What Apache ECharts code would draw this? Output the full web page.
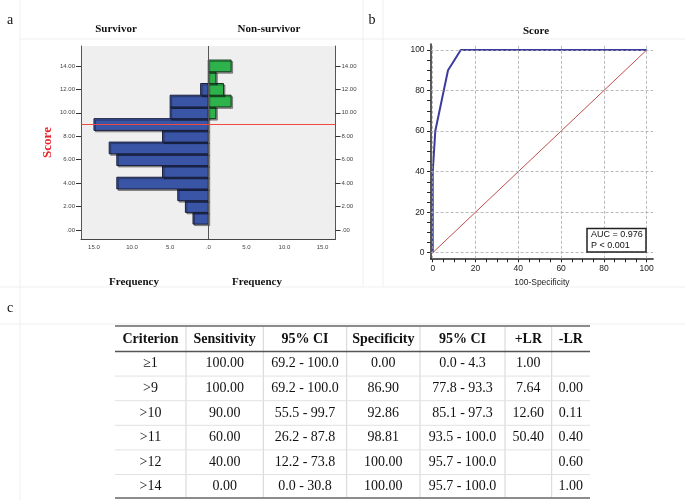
<!DOCTYPE html>
<html><head><meta charset="utf-8">
<script src="https://cdn.jsdelivr.net/npm/echarts@6/dist/echarts.min.js"></script>
<style>html,body{margin:0;padding:0;background:#fff}#c{width:685px;height:500px}</style>
</head><body><div id="c"></div>
<script>
// ---- Panel a: score histogram (bins centred on integer scores) ----
const scoreBins = [1, 2, 3, 4, 5, 6, 7, 8, 9, 10, 11, 12, 13, 14];
const survivorFreq = [2, 3, 4, 12, 6, 12, 13, 6, 15, 5, 5, 1, 0, 0];
const nonSurvivorFreq = [0, 0, 0, 0, 0, 0, 0, 0, 0, 1, 3, 2, 1, 3];
const cutoffScore = 9;
const scoreTicks = [0, 2, 4, 6, 8, 10, 12, 14];
const freqTicks = [-15, -10, -5, 0, 5, 10, 15];
// ---- Panel b: ROC curve ----
const rocFpr = [0, 0, 1.19, 7.14, 13.10, 100];
const rocTpr = [0, 40, 60, 90, 100, 100];
const refLineX = [0, 100];
const refLineY = [0, 100];
const rocTicks = [0, 20, 40, 60, 80, 100];
const rocMinorTicks = [0, 5, 10, 15, 20, 25, 30, 35, 40, 45, 50, 55, 60, 65, 70, 75, 80, 85, 90, 95, 100];
const aucLines = ['AUC = 0.976', 'P < 0.001'];
// ---- Panel c: table ----
const tableHeader = ['Criterion', 'Sensitivity', '95% CI', 'Specificity', '95% CI', '+LR', '-LR'];
const criterion = ['\u22651', '>9', '>10', '>11', '>12', '>14'];
const sensitivity = ['100.00', '100.00', '90.00', '60.00', '40.00', '0.00'];
const sensCI = ['69.2 - 100.0', '69.2 - 100.0', '55.5 - 99.7', '26.2 - 87.8', '12.2 - 73.8', '0.0 - 30.8'];
const specificity = ['0.00', '86.90', '92.86', '98.81', '100.00', '100.00'];
const specCI = ['0.0 - 4.3', '77.8 - 93.3', '85.1 - 97.3', '93.5 - 100.0', '95.7 - 100.0', '95.7 - 100.0'];
const posLR = ['1.00', '7.64', '12.60', '50.40', '', ''];
const negLR = ['', '0.00', '0.11', '0.40', '0.60', '1.00'];

const SERIF = "'Liberation Serif','Times New Roman',serif";
const SANS = "'Liberation Sans',Arial,sans-serif";

const chart = echarts.init(document.getElementById('c'), null, {renderer: 'canvas'});

function histItem(sign, fill, stroke) {
  return function (params, api) {
    const y = api.value(0), v = api.value(1);
    if (!v) return null;
    const a = api.coord([0, y - 0.5]);
    const b = api.coord([sign * v, y + 0.5]);
    return {
      type: 'rect',
      shape: {x: Math.min(a[0], b[0]), y: Math.min(a[1], b[1]), width: Math.abs(b[0] - a[0]), height: Math.abs(b[1] - a[1])},
      style: {fill: fill, stroke: stroke, lineWidth: 1, shadowColor: 'rgba(0,0,0,0.35)', shadowOffsetX: 1.5, shadowOffsetY: 1.5}
    };
  };
}

// Table graphics
const colEdges = [115, 186, 263.3, 346.7, 420, 505, 551.7, 590];
const headerTop = 326, headerH = 25.5, rowH = 24.6;
const tableCols = [criterion, sensitivity, sensCI, specificity, specCI, posLR, negLR];
const nRows = criterion.length;
const tableBottom = headerTop + headerH + rowH * nRows - 1;
const tableGraphics = [];
for (let c = 1; c < colEdges.length - 1; c++) {
  tableGraphics.push({type: 'line', shape: {x1: colEdges[c], y1: headerTop, x2: colEdges[c], y2: tableBottom}, style: {stroke: '#d4d4d4', lineWidth: 1}});
}
for (let r = 1; r < nRows; r++) {
  const y = headerTop + headerH + rowH * r;
  tableGraphics.push({type: 'line', shape: {x1: colEdges[0], y1: y, x2: colEdges[7], y2: y}, style: {stroke: '#e2e2e2', lineWidth: 1}});
}
tableGraphics.push({type: 'line', shape: {x1: colEdges[0], y1: headerTop, x2: colEdges[7], y2: headerTop}, style: {stroke: '#8c8c8c', lineWidth: 2}});
tableGraphics.push({type: 'line', shape: {x1: colEdges[0], y1: headerTop + headerH, x2: colEdges[7], y2: headerTop + headerH}, style: {stroke: '#555', lineWidth: 1.5}});
tableGraphics.push({type: 'line', shape: {x1: colEdges[0], y1: tableBottom, x2: colEdges[7], y2: tableBottom}, style: {stroke: '#8c8c8c', lineWidth: 2}});
for (let c = 0; c < tableHeader.length; c++) {
  const cx = (colEdges[c] + colEdges[c + 1]) / 2;
  tableGraphics.push({type: 'text', x: cx, y: headerTop + headerH / 2 + 1, style: {text: tableHeader[c], font: 'bold 14px ' + SERIF, fill: '#111', align: 'center', verticalAlign: 'middle'}});
  for (let r = 0; r < nRows; r++) {
    tableGraphics.push({type: 'text', x: cx, y: headerTop + headerH + rowH * r + rowH / 2, style: {text: tableCols[c][r], font: '14px ' + SERIF, fill: '#111', align: 'center', verticalAlign: 'middle'}});
  }
}

const faint = '#efefef';
const frameGraphics = [
  {type: 'line', shape: {x1: 20, y1: 0, x2: 20, y2: 500}, style: {stroke: faint, lineWidth: 1}},
  {type: 'line', shape: {x1: 20, y1: 39, x2: 685, y2: 39}, style: {stroke: faint, lineWidth: 1}},
  {type: 'line', shape: {x1: 0, y1: 287, x2: 685, y2: 287}, style: {stroke: faint, lineWidth: 1}},
  {type: 'line', shape: {x1: 0, y1: 324, x2: 685, y2: 324}, style: {stroke: faint, lineWidth: 1}},
  {type: 'line', shape: {x1: 363, y1: 0, x2: 363, y2: 287}, style: {stroke: faint, lineWidth: 1}},
  {type: 'line', shape: {x1: 383, y1: 0, x2: 383, y2: 287}, style: {stroke: faint, lineWidth: 1}}
];

const textGraphics = [
  {type: 'text', x: 10, y: 20, style: {text: 'a', font: '14px ' + SERIF, fill: '#111', align: 'center', verticalAlign: 'middle'}},
  {type: 'text', x: 372, y: 20, style: {text: 'b', font: '14px ' + SERIF, fill: '#111', align: 'center', verticalAlign: 'middle'}},
  {type: 'text', x: 10, y: 308, style: {text: 'c', font: '14px ' + SERIF, fill: '#111', align: 'center', verticalAlign: 'middle'}},
  {type: 'text', x: 116, y: 29, style: {text: 'Survivor', font: 'bold 11px ' + SERIF, fill: '#111', align: 'center', verticalAlign: 'middle'}},
  {type: 'text', x: 269, y: 29, style: {text: 'Non-survivor', font: 'bold 11px ' + SERIF, fill: '#111', align: 'center', verticalAlign: 'middle'}},
  {type: 'text', x: 134, y: 282, style: {text: 'Frequency', font: 'bold 11px ' + SERIF, fill: '#111', align: 'center', verticalAlign: 'middle'}},
  {type: 'text', x: 257, y: 282, style: {text: 'Frequency', font: 'bold 11px ' + SERIF, fill: '#111', align: 'center', verticalAlign: 'middle'}},
  {type: 'text', x: 536, y: 31, style: {text: 'Score', font: 'bold 11px ' + SERIF, fill: '#111', align: 'center', verticalAlign: 'middle'}},
  {type: 'rect', shape: {x: 587, y: 228.5, width: 59, height: 23.5}, style: {fill: '#fff', stroke: '#222', lineWidth: 1.5}, z: 100},
  {type: 'text', x: 591, y: 235, style: {text: aucLines[0], font: '9px ' + SANS, fill: '#111', align: 'left', verticalAlign: 'middle'}, z: 101},
  {type: 'text', x: 591, y: 245.5, style: {text: aucLines[1], font: '9px ' + SANS, fill: '#111', align: 'left', verticalAlign: 'middle'}, z: 101}
];

const yAxisA = (pos) => ({
  type: 'value', gridIndex: 0, position: pos, min: -0.77, max: 15.7,
  axisLine: {show: true, onZero: false, lineStyle: {color: '#555', width: 1}},
  axisTick: {show: true, customValues: scoreTicks, length: 5, lineStyle: {color: '#333'}},
  axisLabel: {customValues: scoreTicks, fontSize: 6, color: '#444', fontFamily: SANS, margin: 6,
    formatter: v => v === 0 ? '.00' : v.toFixed(2)},
  splitLine: {show: false}
});

const option = {
  backgroundColor: '#fff',
  animation: false,
  grid: [
    {left: 81, top: 46, width: 254.5, height: 193, show: true, backgroundColor: '#efefef', borderWidth: 0},
    {left: 430.6, top: 43.9, width: 222.5, height: 214.9}
  ],
  xAxis: [
    {type: 'value', gridIndex: 0, min: -16.7, max: 16.7,
      axisLine: {show: true, onZero: false, lineStyle: {color: '#444', width: 1}},
      axisTick: {show: false},
      axisLabel: {customValues: freqTicks, fontSize: 6, color: '#444', fontFamily: SANS, margin: 5,
        formatter: v => { const a = Math.abs(v); return a === 0 ? '.0' : a.toFixed(1); }},
      splitLine: {show: false}},
    {type: 'value', gridIndex: 1, min: -1, max: 103,
      name: '100-Specificity', nameLocation: 'middle', nameGap: 19,
      nameTextStyle: {fontSize: 8.5, fontFamily: SANS, color: '#222'},
      axisLine: {show: true, onZero: false, lineStyle: {color: '#222', width: 1.5}},
      axisTick: {show: true, customValues: rocMinorTicks, length: 3.5, lineStyle: {color: '#222'}},
      axisLabel: {customValues: rocTicks, fontSize: 8.5, color: '#222', fontFamily: SANS, margin: 5},
      splitLine: {show: false}}
  ],
  yAxis: [
    Object.assign(yAxisA('left'), {name: 'Score', nameLocation: 'middle', nameGap: 27,
      nameTextStyle: {color: '#e8252b', fontSize: 13, fontWeight: 'bold', fontFamily: SERIF}}),
    yAxisA('right'),
    {type: 'value', gridIndex: 1, min: -3, max: 103,
      axisLine: {show: true, onZero: false, lineStyle: {color: '#222', width: 1.5}},
      axisTick: {show: true, customValues: rocMinorTicks, length: 3.5, lineStyle: {color: '#222'}},
      axisLabel: {customValues: rocTicks, fontSize: 8.5, color: '#222', fontFamily: SANS, margin: 6},
      splitLine: {show: false}}
  ],
  series: [
    {type: 'custom', xAxisIndex: 0, yAxisIndex: 0, renderItem: histItem(-1, '#3a55a5', '#1b1f3c'),
      encode: {x: 1, y: 0}, data: scoreBins.map((s, i) => [s, survivorFreq[i]]), z: 2},
    {type: 'custom', xAxisIndex: 0, yAxisIndex: 0, renderItem: histItem(1, '#2eb34c', '#17361f'),
      encode: {x: 1, y: 0}, data: scoreBins.map((s, i) => [s, nonSurvivorFreq[i]]), z: 2},
    {type: 'line', xAxisIndex: 0, yAxisIndex: 0, data: [], z: 5, silent: true,
      markLine: {silent: true, symbol: 'none', label: {show: false}, animation: false,
        data: [
          {xAxis: 0, lineStyle: {color: '#555', width: 1, type: 'solid'}},
          {yAxis: cutoffScore, lineStyle: {color: '#ee4a44', width: 1.2, type: 'solid'}}
        ]}},
    {type: 'line', xAxisIndex: 1, yAxisIndex: 2, data: refLineX.map((x, i) => [x, refLineY[i]]),
      showSymbol: false, symbol: 'none', lineStyle: {color: '#c0504d', width: 1}, z: 3, silent: true,
      markLine: {silent: true, symbol: 'none', label: {show: false}, animation: false,
        lineStyle: {color: '#a8a8a8', width: 0.8, type: [3, 2]},
        data: rocTicks.map(v => ({xAxis: v})).concat(rocTicks.map(v => ({yAxis: v})))}},
    {type: 'line', xAxisIndex: 1, yAxisIndex: 2, data: rocFpr.map((x, i) => [x, rocTpr[i]]),
      showSymbol: false, symbol: 'none', lineStyle: {color: '#3b3c9e', width: 2}, z: 4, silent: true}
  ],
  graphic: frameGraphics.concat(textGraphics, tableGraphics)
};
chart.setOption(option);
</script></body></html>
